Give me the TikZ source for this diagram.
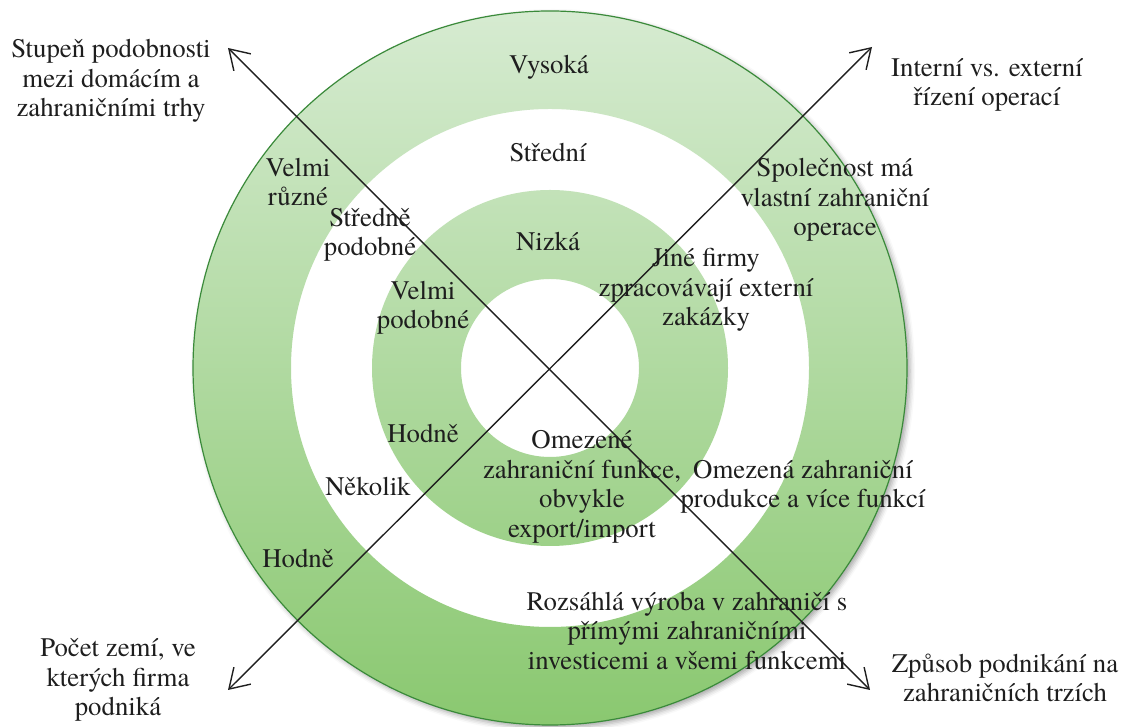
\documentclass[tikz,border=0pt]{standalone}
\usepackage{fontspec}
\setmainfont{TeX Gyre Termes}
\usetikzlibrary{arrows.meta,shadows.blur}
\definecolor{ringtop}{RGB}{214,235,209}
\definecolor{ringbot}{RGB}{138,200,112}
\definecolor{rimgreen}{RGB}{58,138,58}
\definecolor{inkgray}{RGB}{30,30,30}
\begin{document}
\begin{tikzpicture}[x=1pt,y=1pt,
  lbl/.style={align=center, font=\rmfamily\fontsize{26.8}{29.5}\selectfont, text=inkgray, inner sep=0pt},
  axisline/.style={line width=1.4pt, draw=black!88,
    {Straight Barb[length=19pt,width=24pt]}-{Straight Barb[length=19pt,width=24pt]}}
]
\useasboundingbox (0,0) rectangle (1127,727);
\coordinate (c) at (550,359);

% target rings with soft shadow
\fill[white, blur shadow={shadow xshift=3pt, shadow yshift=-3pt,
  shadow blur radius=5pt, shadow opacity=35}] (c) circle[radius=357];
\path[even odd rule, top color=ringtop, bottom color=ringbot]
  (c) circle[radius=357] (c) circle[radius=259]
  (c) circle[radius=178] (c) circle[radius=89];
\draw[rimgreen, line width=1.2pt] (c) circle[radius=357];

% axis end points
\coordinate (tl) at (228,679);
\coordinate (br) at (870,37);
\coordinate (tr) at (872,680);
\coordinate (bl) at (228,37);

% axis captions
\node[lbl] (simil) at (111,646) {Stupeň podobnosti\\mezi domácím a\\zahraničními trhy};
\node[lbl] (ctrl) at (987,642) {Interní vs. externí\\řízení operací};
\node[lbl] (count) at (118,47) {Počet zemí, ve\\kterých firma\\podniká};
\node[lbl] (mode) at (1005,49) {Způsob podnikání na\\zahraničních trzích};

% ring labels
\node[lbl] (hi) at (549,660) {Vysoká};
\node[lbl] (mid) at (548,574) {Střední};
\node[lbl] (lo) at (548,485) {Nizká};
\node[lbl] (vdiff) at (298,545) {Velmi\\různé};
\node[lbl] (msim) at (370,492) {Středně\\podobné};
\node[lbl] (vsim) at (423,419) {Velmi\\podobné};
\node[lbl] (other) at (706,437) {Jiné firmy\\zpracovávají externí\\zakázky};
\node[lbl] (own) at (835,527) {Společnost má\\vlastní zahraniční\\operace};
\node[lbl] (many1) at (423,294) {Hodně};
\node[lbl] (few) at (368,240) {Několik};
\node[lbl] (many2) at (298,169) {Hodně};
\node[lbl] (limf) at (582,240) {Omezené\\zahraniční funkce,\\obvykle\\export/import};
\node[lbl] (limp) at (803,240) {Omezená zahraniční\\produkce a více funkcí};
\node[lbl] (large) at (687,96) {Rozsáhlá výroba v zahraničí s\\přímými zahraničními\\investicemi a všemi funkcemi};

% crossing axes
\draw[axisline] (tl) -- (br);
\draw[axisline] (bl) -- (tr);
\end{tikzpicture}
\end{document}
